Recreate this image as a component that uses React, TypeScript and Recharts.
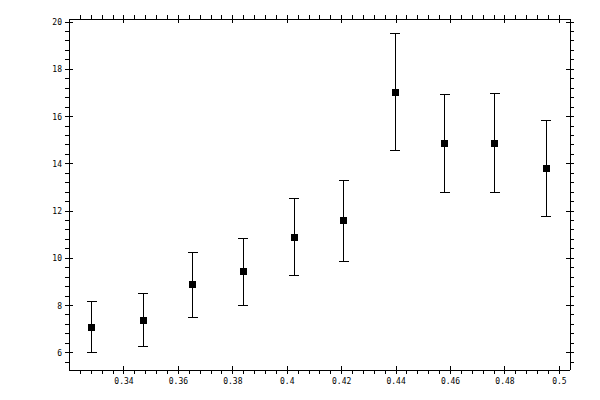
import { ScatterChart, Scatter, XAxis, YAxis, ErrorBar } from "recharts";

// measured points
const xValues = [0.3282, 0.347, 0.3653, 0.3838, 0.4026, 0.4207, 0.4396, 0.4578, 0.4763, 0.4952];
const yValues = [7.09, 7.35, 8.87, 9.43, 10.87, 11.59, 17.03, 14.87, 14.87, 13.8];
const yErrLow = [1.1, 1.1, 1.36, 1.45, 1.61, 1.74, 2.47, 2.08, 2.08, 2.04];
const yErrHigh = [1.06, 1.14, 1.36, 1.4, 1.66, 1.7, 2.47, 2.07, 2.11, 2.04];

const xMajor = [0.34, 0.36, 0.38, 0.4, 0.42, 0.44, 0.46, 0.48, 0.5];
const xMinor = [
  0.324, 0.328, 0.332, 0.336, 0.344, 0.348, 0.352, 0.356, 0.364, 0.368, 0.372, 0.376,
  0.384, 0.388, 0.392, 0.396, 0.404, 0.408, 0.412, 0.416, 0.424, 0.428, 0.432, 0.436,
  0.444, 0.448, 0.452, 0.456, 0.464, 0.468, 0.472, 0.476, 0.484, 0.488, 0.492, 0.496,
];
const yMajor = [6, 8, 10, 12, 14, 16, 18, 20];
const yMinor = [
  5.6, 6.4, 6.8, 7.2, 7.6, 8.4, 8.8, 9.2, 9.6, 10.4, 10.8, 11.2, 11.6, 12.4, 12.8, 13.2,
  13.6, 14.4, 14.8, 15.2, 15.6, 16.4, 16.8, 17.2, 17.6, 18.4, 18.8, 19.2, 19.6,
];

const data = xValues.map((x, i) => ({
  x,
  y: yValues[i],
  err: [yErrLow[i], yErrHigh[i]],
}));

const xMajorSet = new Set(xMajor);
const yMajorSet = new Set(yMajor);
const font = { fontFamily: "DejaVu Sans Mono", fontSize: 8, fill: "#000" };

const BottomTick = (props: any) => {
  const { x, y, payload } = props;
  const major = xMajorSet.has(payload.value);
  return (
    <g>
      <line x1={x} x2={x} y1={major ? y - 4 : y} y2={y + 4} stroke="#000" />
      {major && (
        <text x={x} y={y + 14} textAnchor="middle" {...font}>
          {payload.value}
        </text>
      )}
    </g>
  );
};

const TopTick = (props: any) => {
  const { x, y, payload } = props;
  const major = xMajorSet.has(payload.value);
  return <line x1={x} x2={x} y1={major ? y + 4 : y} y2={y - 4} stroke="#000" />;
};

const LeftTick = (props: any) => {
  const { x, y, payload } = props;
  const major = yMajorSet.has(payload.value);
  return (
    <g>
      <line x1={major ? x + 4 : x} x2={x - 4} y1={y} y2={y} stroke="#000" />
      {major && (
        <text x={x - 7} y={y + 3} textAnchor="end" {...font}>
          {payload.value}
        </text>
      )}
    </g>
  );
};

const RightTick = (props: any) => {
  const { x, y, payload } = props;
  const major = yMajorSet.has(payload.value);
  return <line x1={major ? x - 4 : x} x2={x + 4} y1={y} y2={y} stroke="#000" />;
};

const SquareDot = (props: any) => {
  const { cx, cy } = props;
  return <rect x={cx - 3.5} y={cy - 3.5} width={7} height={7} fill="#000" />;
};

const xDomain = [0.3198, 0.5039];
const yDomain = [5.27, 20.13];
const xTicks = [...xMinor, ...xMajor];
const yTicks = [...yMinor, ...yMajor];

export default function App() {
  return (
    <div style={{ position: "absolute", left: 0, top: 0, background: "#fff", shapeRendering: "crispEdges" }}>
      <ScatterChart width={600} height={400} margin={{ top: 0, right: 0, bottom: 0, left: 0 }}>
        <XAxis
          xAxisId={0}
          type="number"
          dataKey="x"
          domain={xDomain}
          allowDataOverflow
          ticks={xTicks}
          interval={0}
          height={30}
          tickSize={0}
          tickMargin={0}
          tickLine={false}
          axisLine={{ stroke: "#000" }}
          tick={BottomTick}
        />
        <XAxis
          xAxisId="top"
          orientation="top"
          type="number"
          dataKey="x"
          domain={xDomain}
          allowDataOverflow
          ticks={xTicks}
          interval={0}
          height={19}
          tickSize={0}
          tickMargin={0}
          tickLine={false}
          axisLine={{ stroke: "#000" }}
          tick={TopTick}
        />
        <YAxis
          yAxisId={0}
          type="number"
          dataKey="y"
          domain={yDomain}
          allowDataOverflow
          ticks={yTicks}
          interval={0}
          width={69}
          tickSize={0}
          tickMargin={0}
          tickLine={false}
          axisLine={{ stroke: "#000" }}
          tick={LeftTick}
        />
        <YAxis
          yAxisId="right"
          orientation="right"
          type="number"
          dataKey="y"
          domain={yDomain}
          allowDataOverflow
          ticks={yTicks}
          interval={0}
          width={30}
          tickSize={0}
          tickMargin={0}
          tickLine={false}
          axisLine={{ stroke: "#000" }}
          tick={RightTick}
        />
        <Scatter data={data} xAxisId={0} yAxisId={0} shape={SquareDot} isAnimationActive={false}>
          <ErrorBar dataKey="err" direction="y" width={5} stroke="#000" strokeWidth={1} isAnimationActive={false} />
        </Scatter>
        <Scatter data={data} xAxisId="top" yAxisId="right" shape={() => null} isAnimationActive={false} />
      </ScatterChart>
    </div>
  );
}
